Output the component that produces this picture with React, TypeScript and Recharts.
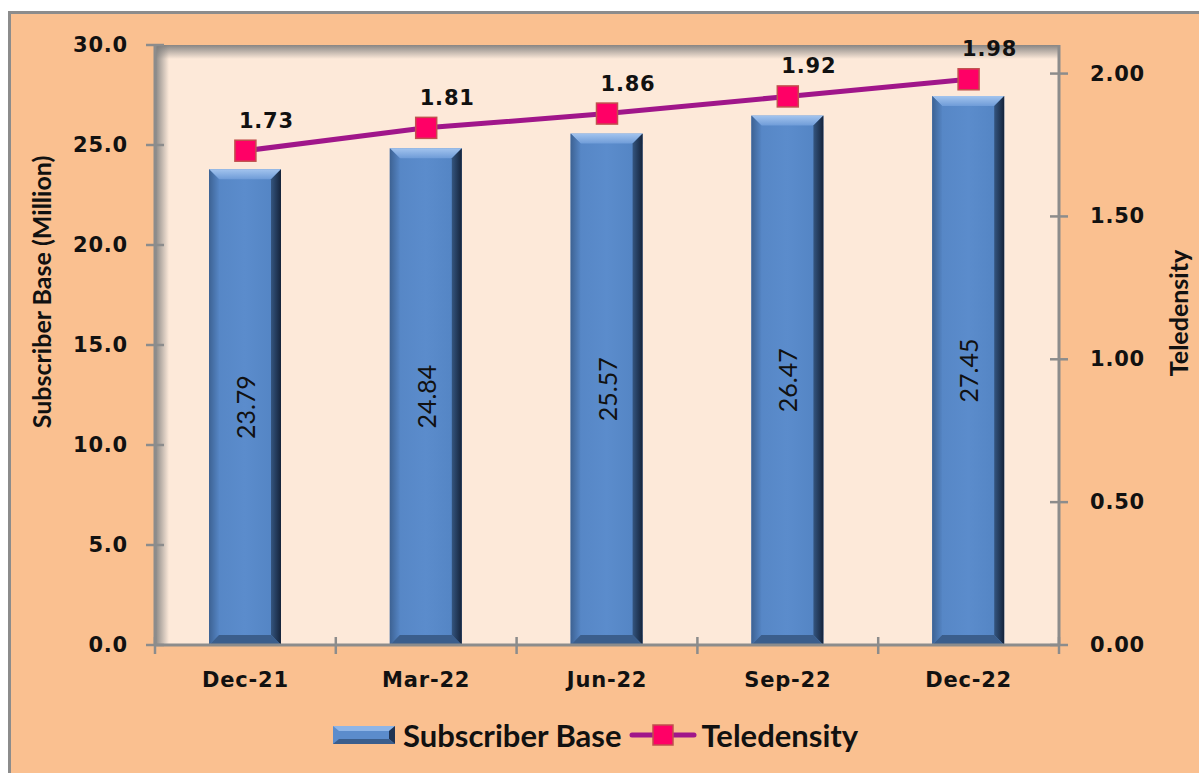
import React from "react";
import {
  ComposedChart, Bar, Line, XAxis, YAxis, CartesianGrid, LabelList, Customized,
} from "recharts";

const categories = ["Dec-21", "Mar-22", "Jun-22", "Sep-22", "Dec-22"];
const subscriberBase = [23.79, 24.84, 25.57, 26.47, 27.45];
const teledensity = [1.73, 1.81, 1.86, 1.92, 1.98];
const leftTicks = [0, 5, 10, 15, 20, 25, 30];
const rightTicks = [0, 0.5, 1, 1.5, 2];

const data = categories.map((c, i) => ({
  month: c,
  subscribers: subscriberBase[i],
  teledensity: teledensity[i],
}));

const W = 1199;
const H = 773;
const PLOT = { left: 155, top: 45, right: 1059, bottom: 645 };
const BAND = (PLOT.right - PLOT.left) / categories.length;
const AXIS = "#8c8c8c";
const TICK_FONT = { fontFamily: "DejaVu Sans", fontWeight: 700, fontSize: 21, letterSpacing: 0.8, fill: "#111" };
const LINE_COLOR = "#a0168a";

function BevelBar(props: any) {
  const { x, y, width: w, height: h } = props;
  if (!h || h <= 0) return null;
  const b = 10;
  return (
    <g>
      <rect x={x} y={y} width={w} height={h} fill="url(#barBody)" />
      <polygon points={`${x},${y} ${x + w},${y} ${x + w - b},${y + b} ${x + b},${y + b}`} fill="url(#barTop)" />
      <polygon points={`${x + w},${y} ${x + w},${y + h} ${x + w - b},${y + h - b} ${x + w - b},${y + b}`} fill="url(#barRight)" />
      <polygon points={`${x},${y} ${x + b},${y + b} ${x + b},${y + h - b} ${x},${y + h}`} fill="url(#barLeft)" />
      <polygon points={`${x},${y + h} ${x + b},${y + h - b} ${x + w - b},${y + h - b} ${x + w},${y + h}`} fill="#3b5e8c" />
    </g>
  );
}

function SquareDot(props: any) {
  const { cx, cy } = props;
  const s = 21;
  return <rect x={cx - s / 2} y={cy - s / 2} width={s} height={s} fill="#ff0066" stroke="#c0504d" strokeWidth={1.5} />;
}

function XTick(props: any) {
  const { x, payload, index } = props;
  const last = index === categories.length - 1;
  return (
    <g>
      <line x1={x - BAND / 2} x2={x - BAND / 2} y1={PLOT.bottom - 8} y2={PLOT.bottom + 9} stroke={AXIS} strokeWidth={2.5} />
      {last && <line x1={x + BAND / 2} x2={x + BAND / 2} y1={PLOT.bottom - 8} y2={PLOT.bottom + 9} stroke={AXIS} strokeWidth={2.5} />}
      <text x={x} y={PLOT.bottom + 35} textAnchor="middle" dominantBaseline="central" style={TICK_FONT}>{payload.value}</text>
    </g>
  );
}

function LeftTick(props: any) {
  const { y, payload } = props;
  return (
    <g>
      <line x1={PLOT.left - 9} x2={PLOT.left + 9} y1={y} y2={y} stroke={AXIS} strokeWidth={2.5} />
      <text x={128} y={y} textAnchor="end" dominantBaseline="central" style={TICK_FONT}>{Number(payload.value).toFixed(1)}</text>
    </g>
  );
}

function RightTick(props: any) {
  const { y, payload } = props;
  return (
    <g>
      <line x1={PLOT.right - 9} x2={PLOT.right + 9} y1={y} y2={y} stroke={AXIS} strokeWidth={2.5} />
      <text x={1090} y={y} textAnchor="start" dominantBaseline="central" style={TICK_FONT}>{Number(payload.value).toFixed(2)}</text>
    </g>
  );
}

function BarValue(props: any) {
  const { x, y, width, height, value } = props;
  const cx = x + width / 2;
  const cy = y + height / 2;
  return (
    <text x={cx} y={cy} transform={`rotate(-90 ${cx} ${cy})`} textAnchor="middle" dominantBaseline="central"
      style={{ fontFamily: "Lato", fontSize: 25, fill: "#111" }}>
      {Number(value).toFixed(2)}
    </text>
  );
}

function LineValue(props: any) {
  const { x, y, value } = props;
  return (
    <text x={x + 21} y={y - 30} textAnchor="middle" dominantBaseline="central" style={TICK_FONT}>
      {Number(value).toFixed(2)}
    </text>
  );
}

function Decor() {
  const title = { fontFamily: "Lato", fontWeight: 700, fontSize: 25, fill: "#111" };
  return (
    <g>
      <defs>
        <linearGradient id="barBody" x1="0" y1="0" x2="1" y2="0">
          <stop offset="0" stopColor="#5585c4" />
          <stop offset="0.5" stopColor="#5b8ccc" />
          <stop offset="1" stopColor="#5283c2" />
        </linearGradient>
        <linearGradient id="barTop" x1="0" y1="0" x2="0" y2="1">
          <stop offset="0" stopColor="#a3c4ee" />
          <stop offset="1" stopColor="#6f9cd8" />
        </linearGradient>
        <linearGradient id="barRight" x1="0" y1="0" x2="1" y2="0">
          <stop offset="0" stopColor="#34557f" />
          <stop offset="1" stopColor="#15233a" />
        </linearGradient>
        <linearGradient id="barLeft" x1="0" y1="0" x2="1" y2="0">
          <stop offset="0" stopColor="#3d6293" />
          <stop offset="1" stopColor="#5585c4" />
        </linearGradient>
        <linearGradient id="shadowTop" x1="0" y1="0" x2="0" y2="1">
          <stop offset="0" stopColor="#7a7a7a" stopOpacity={0.9} />
          <stop offset="1" stopColor="#7a7a7a" stopOpacity={0} />
        </linearGradient>
        <linearGradient id="shadowLeft" x1="0" y1="0" x2="1" y2="0">
          <stop offset="0" stopColor="#7a7a7a" stopOpacity={0.9} />
          <stop offset="1" stopColor="#7a7a7a" stopOpacity={0} />
        </linearGradient>
      </defs>
      <rect x={PLOT.left} y={PLOT.top} width={PLOT.right - PLOT.left} height={14} fill="url(#shadowTop)" />
      <rect x={PLOT.left} y={PLOT.top} width={14} height={PLOT.bottom - PLOT.top} fill="url(#shadowLeft)" />
      <text x={41} y={292} transform="rotate(-90 41 292)" textAnchor="middle" dominantBaseline="central" style={title}>
        Subscriber Base (Million)
      </text>
      <text x={1178} y={313} transform="rotate(-90 1178 313)" textAnchor="middle" dominantBaseline="central" style={title}>
        Teledensity
      </text>
    </g>
  );
}

function LegendRow() {
  const txt = { fontFamily: "Lato", fontWeight: 700, fontSize: 31, color: "#111", lineHeight: "32px" };
  return (
    <div style={{ position: "absolute", left: 333, top: 718, height: 34, display: "flex", alignItems: "center" }}>
      <svg width={62} height={18} style={{ marginRight: 8 }}>
        <rect x={0} y={0} width={62} height={18} fill="#5b8ccc" />
        <polygon points="0,0 62,0 56,5 6,5" fill="#8fb5e6" />
        <polygon points="62,0 62,18 56,13 56,5" fill="#1f3352" />
        <polygon points="0,18 6,13 56,13 62,18" fill="#3b5e8c" />
      </svg>
      <span style={txt}>Subscriber Base</span>
      <svg width={68} height={24} style={{ marginLeft: 8, marginRight: 4 }}>
        <line x1={3} x2={65} y1={12} y2={12} stroke={LINE_COLOR} strokeWidth={5} strokeLinecap="round" />
        <rect x={24} y={2} width={20} height={20} fill="#ff0066" stroke="#c0504d" strokeWidth={1.5} />
      </svg>
      <span style={txt}>Teledensity</span>
    </div>
  );
}

export default function App() {
  return (
    <div style={{ position: "absolute", left: 0, top: 0, width: W, height: H, overflow: "hidden", background: "#fff" }}>
      <div style={{ position: "absolute", left: 8, top: 11, width: W, height: H, background: "#fac090", borderTop: `3px solid ${AXIS}`, borderLeft: `3px solid ${AXIS}` }} />
      <div style={{ position: "absolute", left: 0, top: 0 }}>
        <ComposedChart width={W} height={H} data={data} margin={{ top: PLOT.top, right: 0, left: 0, bottom: H - PLOT.bottom - 60 }}>
          <CartesianGrid horizontal={false} vertical={false} fill="#fde9d9" stroke="none" />
          <Customized component={Decor} />
          <XAxis dataKey="month" height={60} axisLine={{ stroke: AXIS, strokeWidth: 3 }} tickLine={false} tick={<XTick />} interval={0} />
          <YAxis yAxisId="left" width={PLOT.left} domain={[0, 30]} ticks={leftTicks} axisLine={{ stroke: AXIS, strokeWidth: 3 }}
            tickLine={false} tick={<LeftTick />} interval={0} />
          <YAxis yAxisId="right" orientation="right" width={W - PLOT.right} domain={[0, 2.1]} ticks={rightTicks}
            axisLine={{ stroke: AXIS, strokeWidth: 3 }} tickLine={false} tick={<RightTick />} interval={0} />
          <Bar yAxisId="left" dataKey="subscribers" barSize={72} shape={<BevelBar />} isAnimationActive={false}>
            <LabelList dataKey="subscribers" content={<BarValue />} />
          </Bar>
          <Line yAxisId="right" dataKey="teledensity" type="linear" stroke={LINE_COLOR} strokeWidth={5}
            dot={<SquareDot />} activeDot={false} isAnimationActive={false}>
            <LabelList dataKey="teledensity" content={<LineValue />} />
          </Line>
        </ComposedChart>
      </div>
      <LegendRow />
    </div>
  );
}
